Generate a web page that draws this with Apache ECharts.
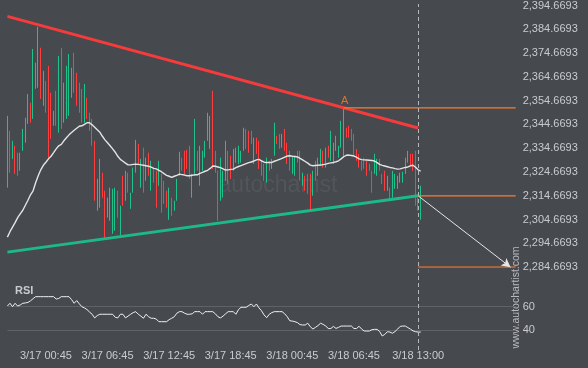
<!DOCTYPE html>
<html><head><meta charset="utf-8">
<script src="https://cdn.jsdelivr.net/npm/echarts@6/dist/echarts.min.js"></script>
<style>html,body{margin:0;padding:0;background:#46494e;}#c{width:588px;height:368px;}</style>
</head><body><div id="c"></div>
<script>
// ---- data ----
const opens = [2318.1,2342.0,2330.2,2335.7,2332.8,2325.2,2333.6,2337.0,2344.9,2353.8,
2347.0,2359.6,2360.1,2376.9,2352.5,2363.0,2369.3,2358.0,2344.1,2358.8,
2341.2,2376.9,2345.4,2347.0,2348.3,2355.9,2374.8,2366.4,2362.2,2359.6,
2345.4,2355.9,2349.6,2347.0,2337.8,2308.4,2309.7,2324.4,2316.8,2305.5,
2304.2,2298.7,2300.0,2316.8,2297.9,2323.1,2312.6,2324.4,2309.2,2316.0,
2324.4,2336.5,2318.1,2334.9,2321.0,2332.8,2316.8,2326.5,2325.2,2318.9,
2323.9,2321.0,2316.8,2304.6,2313.9,2308.4,2312.6,2323.1,2330.7,2333.6,
2334.0,2335.7,2313.9,2323.1,2333.6,2318.9,2325.2,2330.7,2337.8,2334.4,
2358.8,2333.6,2325.2,2312.6,2313.9,2321.0,2333.6,2331.5,2325.2,2328.6,
2328.1,2328.6,2333.6,2342.8,2342.0,2342.0,2328.1,2339.1,2337.8,2329.4,
2328.1,2320.2,2329.4,2326.0,2331.5,2339.9,2340.7,2334.9,2342.8,2337.0,
2333.6,2323.9,2323.1,2333.6,2333.6,2318.9,2323.1,2323.9,2323.9,2314.7,
2329.4,2323.1,2327.3,2333.6,2326.5,2335.7,2329.4,2328.1,2333.6,2330.7,
2334.9,2330.7,2343.3,2344.1,2342.8,2340.7,2334.4,2332.3,2329.4,2330.7,
2329.4,2328.1,2325.2,2323.9,2323.1,2330.2,2323.9,2325.2,2316.8,2318.1,
2313.9,2317.6,2317.6,2320.2,2320.2,2323.9,2328.6,2332.3,2332.3,2333.6,
2313.9,2304.6];
const closes = [2348.3,2324.4,2337.8,2323.9,2323.1,2332.8,2342.8,2347.5,2357.5,2345.4,
2376.4,2370.6,2385.7,2355.4,2367.2,2349.6,2330.2,2338.6,2350.4,2344.1,
2373.5,2342.8,2362.2,2369.3,2374.3,2368.5,2358.0,2352.5,2349.6,2345.4,
2361.7,2347.0,2342.0,2335.7,2312.6,2321.8,2330.2,2313.9,2296.6,2313.9,
2318.1,2317.6,2318.1,2305.5,2310.5,2310.5,2325.2,2316.0,2316.0,2326.5,
2338.2,2328.1,2330.2,2316.0,2330.7,2323.1,2329.4,2320.2,2309.7,2329.4,
2307.6,2311.3,2309.7,2318.1,2306.3,2312.6,2321.8,2333.2,2325.2,2323.9,
2326.0,2321.8,2323.9,2347.0,2325.2,2335.7,2333.6,2337.8,2349.6,2348.3,
2326.0,2324.4,2304.2,2330.7,2325.2,2337.8,2319.7,2321.8,2334.4,2334.9,
2335.7,2333.6,2343.3,2334.4,2332.8,2336.5,2339.1,2332.3,2326.0,2323.1,
2321.0,2330.7,2325.2,2330.2,2345.4,2336.5,2334.4,2340.7,2333.6,2328.1,
2325.2,2331.5,2331.5,2328.6,2321.0,2324.4,2316.8,2315.5,2308.4,2325.2,
2321.0,2330.7,2334.4,2326.5,2334.9,2330.7,2342.0,2337.0,2339.9,2335.7,
2346.2,2351.6,2339.1,2339.1,2337.8,2331.5,2329.4,2326.5,2325.2,2326.0,
2323.1,2325.2,2316.0,2332.3,2330.2,2325.2,2319.7,2316.8,2323.1,2312.6,
2325.2,2323.9,2323.1,2324.4,2324.8,2330.7,2333.6,2327.3,2325.2,2310.5,
2308.4,2318.9];
const maValues = [2297.3,2299.6,2301.5,2303.4,2305.5,2307.1,2308.6,2310.7,2312.8,2315.1,
2316.8,2320.2,2323.1,2325.6,2327.5,2328.8,2330.2,2331.3,2332.8,2334.4,
2335.7,2336.3,2337.8,2339.1,2340.3,2341.3,2342.2,2343.1,2343.9,2344.1,
2344.7,2345.4,2345.4,2344.5,2343.5,2342.4,2341.4,2339.7,2338.2,2337.0,
2335.7,2334.4,2333.0,2331.3,2330.0,2329.2,2328.4,2327.7,2327.7,2327.9,
2328.0,2327.9,2327.7,2327.5,2327.3,2327.1,2326.7,2326.2,2326.0,2325.4,
2324.8,2324.0,2323.3,2322.9,2322.4,2322.9,2323.3,2323.8,2323.6,2323.4,
2323.1,2323.1,2323.3,2323.5,2323.5,2324.1,2324.5,2325.0,2325.4,2326.2,
2327.2,2327.1,2326.8,2326.5,2326.0,2325.5,2325.6,2325.8,2325.9,2326.5,
2327.0,2327.4,2327.8,2328.2,2328.6,2328.9,2329.3,2329.8,2330.0,2329.4,
2328.8,2328.7,2328.7,2328.7,2329.2,2329.6,2330.0,2330.4,2330.9,2331.4,
2331.5,2331.3,2331.2,2331.0,2330.4,2329.8,2329.1,2328.4,2327.6,2327.3,
2327.4,2327.5,2327.6,2327.8,2328.0,2328.3,2328.5,2328.7,2329.0,2329.4,
2330.2,2331.1,2331.7,2331.8,2331.6,2331.4,2330.9,2330.2,2329.9,2329.8,
2329.7,2329.6,2329.5,2329.3,2328.6,2327.9,2327.5,2327.2,2326.9,2326.6,
2326.4,2326.1,2325.9,2326.0,2326.3,2326.6,2326.8,2327.3,2327.5,2326.7,
2325.6,2325.0];
const rsiValues = [60.6,62.9,60,62.9,60.5,61.5,62.9,63.2,63.6,65,
66.8,68.5,68.5,68.5,68.5,68.5,68.5,68.5,68.5,66.5,
67,68.5,68.5,68.5,68.5,66,62.9,65.2,62.5,60,
59,57.6,55.5,53.6,50.5,52.5,53.6,53.6,53.6,53.6,
53.6,53.6,51,50.5,53.6,53.6,50.5,52,53.6,55,
55.8,53.6,52,50.2,53.6,51.5,50.2,50.2,49.5,47.3,
47.3,47.3,47.3,49,50.2,51.5,54.5,55.8,55.8,54.5,
53.6,53.6,54,55.8,55.8,55.8,53.6,55.8,55.8,55.8,
55.8,54,51.5,50.5,52,54,55.8,55.8,55.8,53.6,
57.5,59.5,59.5,59.5,61,62.3,60,62.3,59,56.5,
53,50.7,53.6,55,55.8,55.8,55.8,55.8,54,51.5,
48.1,47.8,47.3,46.5,44.8,44.5,44.5,46,43,41.1,
42.5,44,46,45,43.6,41.5,41.5,43.3,41.6,42.5,
43.6,43.6,43.6,43.6,43.6,41.5,41.5,43.4,41,39.4,
39.4,39.4,40.5,40.8,40.8,39,35.2,36.5,38.8,38.5,
37.5,39,41,43.3,43.6,43.6,42.3,41,39.5,38.8,
38.5,38.5];
const xTickLabels = ['3/17 00:45','3/17 06:45','3/17 12:45','3/17 18:45','3/18 00:45','3/18 06:45','3/18 13:00'];
const priceTickLabels = ['2,284.6693','2,294.6693','2,304.6693','2,314.6693','2,324.6693','2,334.6693',
  '2,344.6693','2,354.6693','2,364.6693','2,374.6693','2,384.6693','2,394.6693'];
const rsiTickLabels = ['40','60'];
const priceMin = 2284.6693, priceMax = 2394.6693, priceStep = 10;
const rsiMin = 40, rsiMax = 60;
const patternStart = 0, patternEnd = 160;
const resistance = [2390.1, 2343.2];
const support = [2291.0, 2314.6693];
const peakA = [131, 2351.6];
const breakoutLevel = 2314.6693, targetLevel = 2284.6693, targetIndex = 196;
const startDay = 16, startMinute = 21 * 60, stepMinutes = 15, categoryCount = 199;

// ---- build categories (15-minute bars) ----
const pad = n => (n < 10 ? '0' : '') + n;
const categories = [];
for (let i = 0; i < categoryCount; i++) {
  const t = startMinute + i * stepMinutes;
  const d = startDay + Math.floor(t / 1440), m = t % 1440;
  categories.push('3/' + d + ' ' + pad(Math.floor(m / 60)) + ':' + pad(m % 60));
}
const candles = opens.map((o, i) => [o, closes[i], Math.min(o, closes[i]), Math.max(o, closes[i])]);
const lastCat = categories.length - 1;

const FONT = 'Liberation Sans, Arial, sans-serif';
const TXT = '#c9cbce';
const GREEN = '#1ec28b', RED = '#ff3d3d', ORANGE = '#ff7a2a';
const gridL = 7.4, gridR = 72.3;

const chart = echarts.init(document.getElementById('c'), null, {renderer: 'canvas'});
chart.setOption({
  animation: false,
  backgroundColor: '#46494e',
  textStyle: {fontFamily: FONT},
  grid: [
    {left: gridL, right: gridR, top: 4.9, height: 262.3},
    {left: gridL, right: gridR, top: 306.7, height: 23.6},
    {left: gridL, right: gridR, top: 4, height: 346}
  ],
  xAxis: [
    {type: 'category', gridIndex: 0, data: categories, boundaryGap: false, show: false},
    {type: 'category', gridIndex: 1, data: categories, boundaryGap: false,
      axisLine: {show: false}, axisTick: {show: false}, splitLine: {show: false},
      axisLabel: {color: TXT, fontSize: 11, fontFamily: FONT, margin: 20,
        interval: (idx, val) => xTickLabels.indexOf(val) >= 0}},
    {type: 'category', gridIndex: 2, data: categories, boundaryGap: false, show: false}
  ],
  yAxis: [
    {type: 'value', gridIndex: 0, position: 'right', min: priceMin, max: priceMax, interval: priceStep,
      axisLine: {show: false}, axisTick: {show: false}, splitLine: {show: false},
      axisLabel: {color: TXT, fontSize: 11, fontFamily: FONT, margin: 7,
        formatter: v => priceTickLabels[Math.round((v - priceMin) / priceStep)] || ''}},
    {type: 'value', gridIndex: 1, position: 'right', min: rsiMin, max: rsiMax, interval: rsiMax - rsiMin,
      axisLine: {show: false}, axisTick: {show: false},
      splitLine: {show: true, lineStyle: {color: '#5f6267', width: 1}},
      axisLabel: {color: TXT, fontSize: 11, fontFamily: FONT, margin: 7,
        formatter: v => rsiTickLabels[Math.round((v - rsiMin) / (rsiMax - rsiMin))] || ''}},
    {type: 'value', gridIndex: 2, min: 0, max: 1, show: false}
  ],
  series: [
    {type: 'candlestick', xAxisIndex: 0, yAxisIndex: 0, data: candles, barWidth: 1,
      itemStyle: {color: GREEN, color0: RED, borderColor: GREEN, borderColor0: RED, borderWidth: 1}},
    {type: 'line', xAxisIndex: 0, yAxisIndex: 0, data: maValues, symbol: 'none',
      lineStyle: {color: '#e4e4e4', width: 1.4}},
    {type: 'line', xAxisIndex: 0, yAxisIndex: 0, symbol: 'none',
      data: [[patternStart, resistance[0]], [patternEnd, resistance[1]]],
      lineStyle: {color: '#f53b3b', width: 3}},
    {type: 'line', xAxisIndex: 0, yAxisIndex: 0, symbol: 'none',
      data: [[patternStart, support[0]], [patternEnd, support[1]]],
      lineStyle: {color: '#1db988', width: 3}},
    {type: 'line', xAxisIndex: 0, yAxisIndex: 0, symbol: 'none',
      data: [[peakA[0], peakA[1]], [lastCat, peakA[1]]],
      lineStyle: {color: ORANGE, width: 1.2}},
    {type: 'line', xAxisIndex: 0, yAxisIndex: 0, symbol: 'none',
      data: [[patternEnd, breakoutLevel], [lastCat, breakoutLevel]],
      lineStyle: {color: ORANGE, width: 1.2}},
    {type: 'line', xAxisIndex: 0, yAxisIndex: 0, symbol: 'none',
      data: [[patternEnd, targetLevel], [lastCat, targetLevel]],
      lineStyle: {color: ORANGE, width: 1.2},
      markLine: {silent: true, symbol: ['none', 'arrow'], symbolSize: [7, 9], label: {show: false},
        lineStyle: {color: '#e6e6e6', width: 1, type: 'solid'},
        data: [[{coord: [categories[patternEnd], breakoutLevel]}, {coord: [categories[targetIndex], targetLevel]}]]}},
    {type: 'scatter', xAxisIndex: 0, yAxisIndex: 0, data: [peakA], symbolSize: 1,
      itemStyle: {color: 'rgba(0,0,0,0)'},
      label: {show: true, formatter: 'A', position: 'top', distance: 1, offset: [1, 0],
        color: ORANGE, fontSize: 11, fontFamily: FONT}},
    {type: 'line', xAxisIndex: 1, yAxisIndex: 1, data: rsiValues, symbol: 'none', clip: false,
      lineStyle: {color: '#f0f0f0', width: 1}},
    {type: 'line', xAxisIndex: 2, yAxisIndex: 2, data: [], symbol: 'none',
      markLine: {silent: true, symbol: 'none', label: {show: false},
        lineStyle: {color: '#b5b7ba', width: 1, type: [4, 3]},
        data: [{xAxis: categories[patternEnd]}]}}
  ],
  graphic: [
    {type: 'text', x: 278, y: 186, silent: true, z: 0,
      style: {text: 'autochartist', fill: '#52555a', font: '23px ' + FONT, align: 'center', verticalAlign: 'middle'}},
    {type: 'text', x: 15, y: 291,
      style: {text: 'RSI', fill: TXT, font: 'bold 11px ' + FONT, align: 'left', verticalAlign: 'middle'}},
    {type: 'text', x: 516, y: 297.5, rotation: Math.PI / 2,
      style: {text: 'www.autochartist.com', fill: '#b8babd', font: '10.5px ' + FONT, align: 'center', verticalAlign: 'middle'}}
  ]
});
</script></body></html>
